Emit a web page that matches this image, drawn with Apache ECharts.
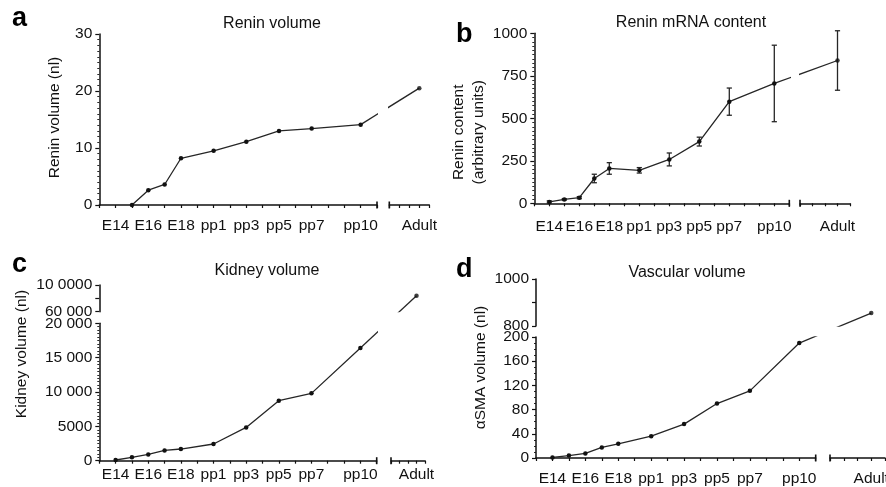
<!DOCTYPE html>
<html><head><meta charset="utf-8">
<script src="https://cdn.jsdelivr.net/npm/echarts@6/dist/echarts.min.js"></script>
<style>html,body{margin:0;padding:0;background:#fff}#c{width:886px;height:487px}</style>
</head><body><div id="c"></div><script>
// ---------- DATA ----------
// one x tick per day
const dayAxis = ['E13','E14','E15','E16','E17','E18','pp0','pp1','pp2','pp3','pp4','pp5','pp6','pp7','pp8','pp9','pp10','pp11'];
const labelledDays = ['E14','E16','E18','pp1','pp3','pp5','pp7','pp10'];
const adultLabel = 'Adult';

// a  Renin volume
const reninVolAges = ['E15','E16','E17','E18','pp1','pp3','pp5','pp7','pp10'];
const reninVolValues = [0, 2.6, 3.6, 8.2, 9.5, 11.1, 13.0, 13.4, 14.1];
const reninVolAdult = 20.5;
const reninVolTickValues = [0, 10, 20, 30];
const reninVolTickLabels = ['0', '10', '20', '30'];

// b  Renin mRNA content (mean, error)
const reninMrnaAges = ['E14','E15','E16','E17','E18','pp1','pp3','pp5','pp7','pp10'];
const reninMrnaValues = [8, 23, 33, 146, 205, 194, 258, 363, 598, 705];
const reninMrnaErr = [6, 4, 6, 25, 34, 16, 38, 26, 80, 225];
const reninMrnaAdult = 840;
const reninMrnaAdultErr = 175;
const reninMrnaTickValues = [0, 250, 500, 750, 1000];
const reninMrnaTickLabels = ['0', '250', '500', '750', '1000'];

// c  Kidney volume
const kidneyAges = ['E14','E15','E16','E17','E18','pp1','pp3','pp5','pp7','pp10'];
const kidneyValues = [100, 490, 920, 1500, 1700, 2430, 4850, 8740, 9800, 16400];
const kidneyAdult = 84000;
const kidneyLowTickValues = [0, 5000, 10000, 15000, 20000];
const kidneyLowTickLabels = ['0', '5000', '10 000', '15 000', '20 000'];
const kidneyUpTickValues = [60000, 100000];
const kidneyUpTickLabels = ['60 000', '10 0000'];

// d  Vascular volume
const vascAges = ['E14','E15','E16','E17','E18','pp1','pp3','pp5','pp7','pp10'];
const vascValues = [1, 4, 7.5, 17.5, 23.5, 36, 56, 90, 111, 190];
const vascAdult = 855;
const vascLowTickValues = [0, 40, 80, 120, 160, 200];
const vascLowTickLabels = ['0', '40', '80', '120', '160', '200'];
const vascUpTickValues = [800, 1000];
const vascUpTickLabels = ['800', '1000'];

// ---------- LAYOUT ----------
const FONT = '"Liberation Sans", Arial, Helvetica, sans-serif';
const FS = 15.5;
const INK = '#111';
const LINEC = '#262626';
const RIGHT_MAX = 4, ADULT_SLOT = 3;

const panels = [
  { letter:'a', letterPos:[12,18.5], title:'Renin volume', titlePos:[272,23.7],
    left:{x0:99.3,x1:377}, right:{x0:389.3,x1:429.3},
    low:{top:34,bottom:205,min:0,max:30,interval:10,minor:10,tv:reninVolTickValues,tl:reninVolTickLabels},
    name:'Renin volume (nl)', nameGap:36, namePad:[0,0,0,4], lineH:18, xMargin:13,
    ages:renInd(reninVolAges), values:reninVolValues, adult:reninVolAdult },
  { letter:'b', letterPos:[456,35], title:'Renin mRNA content', titlePos:[691,22.7],
    left:{x0:534.3,x1:789.3}, right:{x0:800,x1:850},
    low:{top:33.3,bottom:203.3,min:0,max:1000,interval:250,minor:10,tv:reninMrnaTickValues,tl:reninMrnaTickLabels},
    name:'Renin content\n(arbitrary units)', nameGap:32, namePad:[0,28,0,0], lineH:20, xMargin:15,
    ages:renInd(reninMrnaAges), values:reninMrnaValues, adult:reninMrnaAdult,
    err:reninMrnaErr, adultErr:reninMrnaAdultErr },
  { letter:'c', letterPos:[12,264.5], title:'Kidney volume', titlePos:[267,270.4],
    left:{x0:99.3,x1:376.7}, right:{x0:391,x1:425},
    low:{top:323.3,bottom:460.7,min:0,max:20000,interval:5000,minor:10,tv:kidneyLowTickValues,tl:kidneyLowTickLabels},
    up:{top:285,bottom:311.7,min:60000,max:100000,interval:20000,minor:0,tv:kidneyUpTickValues,tl:kidneyUpTickLabels},
    name:'Kidney volume (nl)', nameGap:69, namePad:[0,0,0,76], lineH:18, xMargin:6,
    ages:renInd(kidneyAges), values:kidneyValues, adult:kidneyAdult },
  { letter:'d', letterPos:[456,270], title:'Vascular volume', titlePos:[687,272.4],
    left:{x0:536,x1:815.7}, right:{x0:830,x1:885},
    low:{top:337,bottom:458,min:0,max:200,interval:40,minor:4,tv:vascLowTickValues,tl:vascLowTickLabels},
    up:{top:279,bottom:326,min:800,max:1000,interval:100,minor:0,tv:vascUpTickValues,tl:vascUpTickLabels},
    name:'\u03b1SMA volume (nl)', nameGap:46, namePad:[0,0,0,60], lineH:18, xMargin:13,
    ages:renInd(vascAges), values:vascValues, adult:vascAdult }
];
function renInd(arr){ return arr.map(a => dayAxis.indexOf(a)); }

// ---------- BUILD ----------
const grids = [], xAxes = [], yAxes = [], series = [], graphics = [];
function addGrid(left, top, width, height){
  grids.push({left, top, width, height, containLabel:false, outerBoundsMode:'none', show:false});
  return grids.length - 1;
}
const axisLineStyle = {color:INK, width:1.5};
const tickStyle = {color:INK, width:1.2};

function xLeft(gi, margin){
  return {gridIndex:gi, type:'value', min:0, max:dayAxis.length-1, interval:1,
    axisLine:{show:true, onZero:false, lineStyle:axisLineStyle, symbol:['none','rect'], symbolSize:[7,1.6]},
    axisTick:{show:true, inside:false, length:3, lineStyle:tickStyle},
    axisLabel:{show:true, margin, fontSize:FS, fontFamily:FONT, color:INK, showMinLabel:true, showMaxLabel:true,
      formatter: v => { const n = dayAxis[Math.round(v)]; return labelledDays.indexOf(n) >= 0 ? n : ''; }},
    splitLine:{show:false}};
}
function xRight(gi, margin){
  return {gridIndex:gi, type:'value', min:0, max:RIGHT_MAX, interval:1,
    axisLine:{show:true, onZero:false, lineStyle:axisLineStyle, symbol:['rect','none'], symbolSize:[7,1.6]},
    axisTick:{show:true, inside:false, length:3, lineStyle:tickStyle},
    axisLabel:{show:true, margin, fontSize:FS, fontFamily:FONT, color:INK, showMinLabel:true, showMaxLabel:true,
      formatter: v => (Math.round(v) === ADULT_SLOT ? adultLabel : '')},
    splitLine:{show:false}};
}
function xHidden(gi, max){
  return {gridIndex:gi, type:'value', min:0, max, show:false, splitLine:{show:false}};
}
function yShown(gi, s, P){
  const ax = {gridIndex:gi, type:'value', min:s.min, max:s.max, interval:s.interval,
    axisLine:{show:true, onZero:false, lineStyle:axisLineStyle},
    axisTick:{show:true, inside:false, length:4, lineStyle:tickStyle},
    minorTick:{show:s.minor > 0, splitNumber:s.minor || 5, length:2, lineStyle:{color:INK, width:0.9}},
    axisLabel:{show:true, margin:7, fontSize:FS, fontFamily:FONT, color:INK, showMinLabel:true, showMaxLabel:true,
      formatter: v => { const i = s.tv.indexOf(v); return i >= 0 ? s.tl[i] : ''; }},
    splitLine:{show:false}, minorSplitLine:{show:false}};
  if (P){
    ax.name = P.name; ax.nameLocation = 'middle'; ax.nameGap = P.nameGap;
    ax.nameTextStyle = {fontSize:FS, fontFamily:FONT, color:INK, lineHeight:P.lineH, padding:P.namePad};
  }
  return ax;
}
function yHidden(gi, s){
  return {gridIndex:gi, type:'value', min:s.min, max:s.max, show:false, splitLine:{show:false}};
}
const lineStyle = {color:LINEC, width:1.3};
const itemStyle = {color:'#111'};

function errRender(params, api){
  const x = api.value(0), lo = api.value(1), hi = api.value(2);
  const p1 = api.coord([x, lo]), p2 = api.coord([x, hi]);
  const w = 2.6, st = {stroke:LINEC, lineWidth:1.3};
  return {type:'group', children:[
    {type:'line', shape:{x1:p1[0], y1:p1[1], x2:p2[0], y2:p2[1]}, style:st},
    {type:'line', shape:{x1:p1[0]-w, y1:p1[1], x2:p1[0]+w, y2:p1[1]}, style:st},
    {type:'line', shape:{x1:p2[0]-w, y1:p2[1], x2:p2[0]+w, y2:p2[1]}, style:st}
  ]};
}

panels.forEach(P => {
  const lowH = P.low.bottom - P.low.top;
  const gl = addGrid(P.left.x0, P.low.top, P.left.x1 - P.left.x0, lowH);
  xAxes.push(xLeft(gl, P.xMargin)); yAxes.push(yShown(gl, P.low, P));
  const gr = addGrid(P.right.x0, P.low.top, P.right.x1 - P.right.x0, lowH);
  xAxes.push(xRight(gr, P.xMargin)); yAxes.push(yHidden(gr, P.low));
  let ga = gr;
  if (P.up){
    const upH = P.up.bottom - P.up.top;
    const gul = addGrid(P.left.x0, P.up.top, P.left.x1 - P.left.x0, upH);
    xAxes.push(xHidden(gul, dayAxis.length-1)); yAxes.push(yShown(gul, P.up, null));
    const gur = addGrid(P.right.x0, P.up.top, P.right.x1 - P.right.x0, upH);
    xAxes.push(xHidden(gur, RIGHT_MAX)); yAxes.push(yHidden(gur, P.up));
    ga = gur;
  }
  P.gl = gl; P.ga = ga;
  series.push({type:'line', xAxisIndex:gl, yAxisIndex:gl,
    data:P.ages.map((x,i) => [x, P.values[i]]),
    symbol:'circle', symbolSize:4.5, showSymbol:true, lineStyle, itemStyle, z:3});
  series.push({type:'scatter', xAxisIndex:ga, yAxisIndex:ga, data:[[ADULT_SLOT, P.adult]],
    symbol:'circle', symbolSize:4.5, itemStyle, z:3});
  if (P.err){
    series.push({type:'custom', xAxisIndex:gl, yAxisIndex:gl, renderItem:errRender,
      encode:{x:0, y:[1,2]}, data:P.ages.map((x,i) => [x, P.values[i]-P.err[i], P.values[i]+P.err[i]]), z:2});
    series.push({type:'custom', xAxisIndex:ga, yAxisIndex:ga, renderItem:errRender,
      encode:{x:0, y:[1,2]}, data:[[ADULT_SLOT, P.adult-P.adultErr, P.adult+P.adultErr]], z:2});
  }
  graphics.push({type:'text', x:P.letterPos[0], y:P.letterPos[1],
    style:{text:P.letter, font:'bold 27px ' + FONT, fill:'#000', align:'left', verticalAlign:'middle'}});
  graphics.push({type:'text', x:P.titlePos[0], y:P.titlePos[1],
    style:{text:P.title, font:'16px ' + FONT, fill:INK, align:'center', verticalAlign:'middle'}});
});

const chart = echarts.init(document.getElementById('c'), null, {renderer:'canvas', width:886, height:487});
const option = {animation:false, backgroundColor:'#fff', tooltip:{show:false},
  grid:grids, xAxis:xAxes, yAxis:yAxes, series:series, graphic:graphics};
chart.setOption(option);

// connector across the axis break: straight line pp10 -> Adult, clipped to each grid
panels.forEach(P => {
  const last = P.ages.length - 1;
  const pA = chart.convertToPixel({gridIndex:P.gl}, [P.ages[last], P.values[last]]);
  const pB = chart.convertToPixel({gridIndex:P.ga}, [ADULT_SLOT, P.adult]);
  const qL = chart.convertFromPixel({gridIndex:P.gl}, pB);
  const qR = chart.convertFromPixel({gridIndex:P.ga}, pA);
  series.push({type:'line', xAxisIndex:P.gl, yAxisIndex:P.gl, clip:true, symbol:'none',
    data:[[P.ages[last], P.values[last]], qL], lineStyle, z:2});
  series.push({type:'line', xAxisIndex:P.ga, yAxisIndex:P.ga, clip:true, symbol:'none',
    data:[qR, [ADULT_SLOT, P.adult]], lineStyle, z:2});
});
chart.setOption({series:series});
</script></body></html>
